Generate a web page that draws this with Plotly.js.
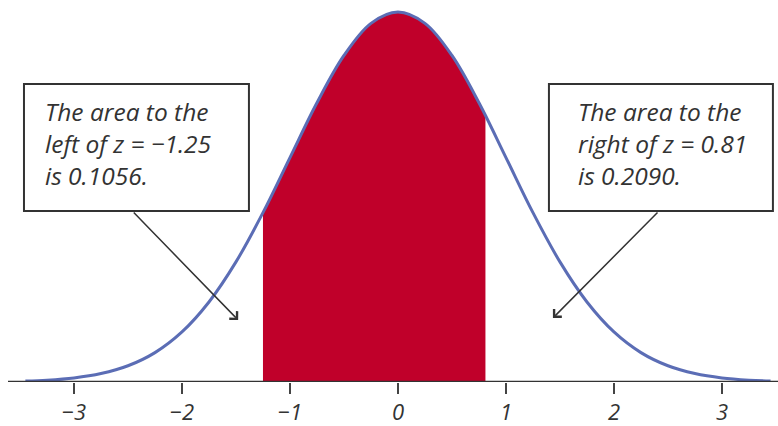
<!DOCTYPE html>
<html>
<head>
<meta charset="utf-8">
<script src="https://cdn.plot.ly/plotly-3.0.1.min.js"></script>
<style>html,body{margin:0;padding:0;background:#fff;}#chart{width:778px;height:426px;}</style>
</head>
<body>
<div id="chart"></div>
<script>
// Standard normal density
var curveZ = [-3.45, -3.25, -3.0, -2.75, -2.5, -2.25, -2.0, -1.75, -1.5, -1.25, -1.0, -0.75, -0.5, -0.25, 0.0, 0.25, 0.5, 0.75, 1.0, 1.25, 1.5, 1.75, 2.0, 2.25, 2.5, 2.75, 3.0, 3.25, 3.45];
var curveY = [0.0010, 0.0020, 0.0044, 0.0091, 0.0175, 0.0317, 0.0540, 0.0863, 0.1295, 0.1826, 0.2420, 0.3011, 0.3521, 0.3867, 0.3989, 0.3867, 0.3521, 0.3011, 0.2420, 0.1826, 0.1295, 0.0863, 0.0540, 0.0317, 0.0175, 0.0091, 0.0044, 0.0020, 0.0010];
// Shaded region between z = -1.25 and z = 0.81
var shadeZ = [-1.25, -1.0, -0.75, -0.5, -0.25, 0.0, 0.25, 0.5, 0.75, 0.81];
var shadeY = [0.1826, 0.2420, 0.3011, 0.3521, 0.3867, 0.3989, 0.3867, 0.3521, 0.3011, 0.2874];
var tickVals = [-3, -2, -1, 0, 1, 2, 3];
var tickText = ['\u22123', '\u22122', '\u22121', '0', '1', '2', '3'];
var leftNote = 'The area to the<br>left of z = \u22121.25<br>is 0.1056.';
var rightNote = 'The area to the<br>right of z = 0.81<br>is 0.2090.';

var hand = {family: 'Open Sans, sans-serif', size: 24.5, color: '#333333', style: 'italic'};

var traces = [
  {x: shadeZ, y: shadeY, type: 'scatter', mode: 'lines', fill: 'tozeroy',
   fillcolor: '#c0002a', line: {color: '#c0002a', width: 0, shape: 'spline'},
   hoverinfo: 'skip', cliponaxis: false},
  {x: curveZ, y: curveY, type: 'scatter', mode: 'lines',
   line: {color: '#5b6db5', width: 3, shape: 'spline'}, cliponaxis: false}
];

var layout = {
  width: 778, height: 426,
  margin: {l: 8, r: 0, t: 0, b: 44},
  paper_bgcolor: '#ffffff', plot_bgcolor: '#ffffff',
  showlegend: false,
  xaxis: {range: [-3.611, 3.519], showgrid: false, zeroline: false,
    showline: false, tickvals: tickVals, ticktext: tickText,
    ticks: 'outside', ticklen: 11, tickwidth: 1.5, tickcolor: '#444',
    tickfont: {family: 'Open Sans, sans-serif', size: 22, color: '#333', style: 'italic'},
    fixedrange: true},
  yaxis: {range: [0, 0.4119], visible: false, fixedrange: true},
  shapes: [
    {type: 'line', xref: 'paper', yref: 'y', x0: 0, x1: 1, y0: 0, y1: 0,
     line: {color: '#333', width: 2.5}},
    {type: 'rect', xref: 'x', yref: 'y', x0: -3.463, x1: -1.380, y0: 0.1844, y1: 0.3213,
     line: {color: '#333', width: 2}, fillcolor: '#ffffff'},
    {type: 'rect', xref: 'x', yref: 'y', x0: 1.398, x1: 3.472, y0: 0.1844, y1: 0.3213,
     line: {color: '#333', width: 2}, fillcolor: '#ffffff'}
  ],
  annotations: [
    {x: -3.29, y: 0.3115, xref: 'x', yref: 'y', xanchor: 'left', yanchor: 'top',
     align: 'left', text: leftNote, showarrow: false, font: hand},
    {x: 1.645, y: 0.3115, xref: 'x', yref: 'y', xanchor: 'left', yanchor: 'top',
     align: 'left', text: rightNote, showarrow: false, font: hand},
    {x: -1.48, y: 0.0668, xref: 'x', yref: 'y', axref: 'x', ayref: 'y',
     ax: -2.46, ay: 0.1844, text: '', showarrow: true, arrowhead: 4,
     arrowsize: 1.4, arrowwidth: 1.5, arrowcolor: '#333'},
    {x: 1.435, y: 0.069, xref: 'x', yref: 'y', axref: 'x', ayref: 'y',
     ax: 2.417, ay: 0.1844, text: '', showarrow: true, arrowhead: 4,
     arrowsize: 1.4, arrowwidth: 1.5, arrowcolor: '#333'}
  ]
};

Plotly.newPlot('chart', traces, layout, {displayModeBar: false, staticPlot: true});
</script>
</body>
</html>
